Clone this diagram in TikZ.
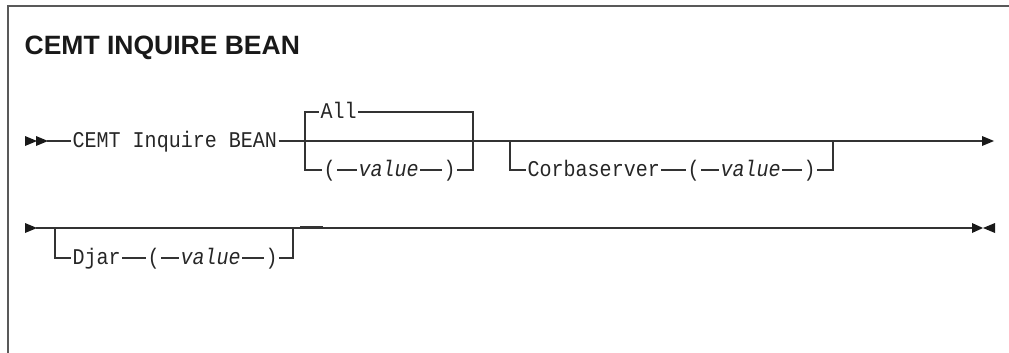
\documentclass[tikz,border=0pt]{standalone}
\usepackage{xcolor}
\usepackage{fontspec}
\setsansfont{Liberation Sans}
\setmonofont[FakeStretch=0.89]{Liberation Mono}
\usepackage{tikz}

\begin{document}
\begin{tikzpicture}[
		x=1pt, y=-1pt,
		line width=1.3pt,
		rail/.style={draw=black!80},
		frame/.style={draw=black!65, line width=1.6pt},
		head/.style={fill=black!90},
		kw/.style={anchor=west, inner xsep=1pt, inner ysep=0pt, text=black!85,
			text height=13pt, text depth=0pt,
			font=\fontsize{22.5}{26}\selectfont\ttfamily},
		var/.style={kw, font=\fontsize{22.5}{26}\selectfont\ttfamily\itshape},
		title/.style={anchor=base west, inner sep=0pt, text=black!90,
			font=\fontsize{26.5}{30}\selectfont\sffamily\bfseries}
		]

	\useasboundingbox (0,0) rectangle (1009,353);

	% Frame and title
	\draw[frame] (1009,6) -- (8,6) -- (8,353);
	\node[title] (heading) at (24,55) {CEMT INQUIRE BEAN};

	% Row 1
	\fill[head] (25,136) -- (37,141) -- (25,146) -- cycle;
	\fill[head] (36,136) -- (48,141) -- (36,146) -- cycle;
	\coordinate (start1) at (47,141);
	\coordinate (a1) at (305,141);
	\coordinate (a2) at (473,141);
	\coordinate (c1) at (510,141);
	\coordinate (c2) at (833,141);
	\coordinate (end1) at (983,141);
	\node[kw] (cmd) at (71,141) {CEMT Inquire BEAN};
	\draw[rail] (start1) -- (cmd.west);
	\draw[rail] (cmd.east) -- (end1);
	\fill[head] (982,136) -- (994,141) -- (982,146) -- cycle;

	% All or (value)
	\node[kw] (all) at (319,112) {All};
	\draw[rail] (a1) |- (all.west);
	\draw[rail] (all.east) -| (a2);
	\node[kw] (lp1) at (322,170) {(};
	\node[var] (val1) at (357,170) {value};
	\node[kw] (rp1) at (442,170) {)};
	\draw[rail] (a1) |- (lp1.west);
	\draw[rail] (lp1.east) -- (val1.west);
	\draw[rail] (val1.east) -- (rp1.west);
	\draw[rail] (rp1.east) -| (a2);

	% Corbaserver(value)
	\node[kw] (corba) at (526,170) {Corbaserver};
	\node[kw] (lp2) at (686,170) {(};
	\node[var] (val2) at (719,170) {value};
	\node[kw] (rp2) at (802,170) {)};
	\draw[rail] (c1) |- (corba.west);
	\draw[rail] (corba.east) -- (lp2.west);
	\draw[rail] (lp2.east) -- (val2.west);
	\draw[rail] (val2.east) -- (rp2.west);
	\draw[rail] (rp2.east) -| (c2);

	% Row 2
	\fill[head] (25,223) -- (37,228) -- (25,233) -- cycle;
	\coordinate (start2) at (36,228);
	\coordinate (d1) at (55,228);
	\coordinate (d2) at (293,228);
	\coordinate (end2) at (973,228);
	\draw[rail] (start2) -- (end2);
	\draw[rail, line width=2.6pt] (300,227) -- (323,227);
	\fill[head] (972,223) -- (983,228) -- (972,233) -- cycle;
	\fill[head] (995,223) -- (983,228) -- (995,233) -- cycle;

	% Djar(value)
	\node[kw] (djar) at (71,258) {Djar};
	\node[kw] (lp3) at (146,258) {(};
	\node[var] (val3) at (179,258) {value};
	\node[kw] (rp3) at (264,258) {)};
	\draw[rail] (d1) |- (djar.west);
	\draw[rail] (djar.east) -- (lp3.west);
	\draw[rail] (lp3.east) -- (val3.west);
	\draw[rail] (val3.east) -- (rp3.west);
	\draw[rail] (rp3.east) -| (d2);

\end{tikzpicture}
\end{document}
